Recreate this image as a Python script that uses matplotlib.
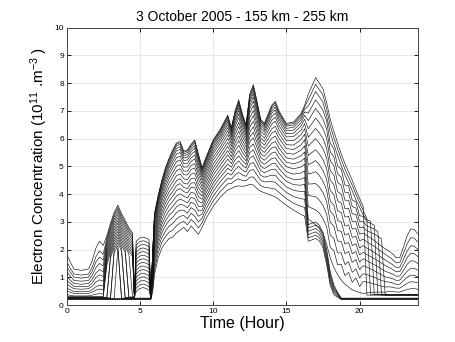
import matplotlib
matplotlib.use('Agg')
import matplotlib.pyplot as plt

plt.rcParams['font.family'] = ['Liberation Sans', 'DejaVu Sans']
plt.rcParams['mathtext.fontset'] = 'custom'
plt.rcParams['mathtext.rm'] = 'Liberation Sans'
plt.rcParams['mathtext.it'] = 'Liberation Sans:italic'
plt.rcParams['mathtext.bf'] = 'Liberation Sans:bold'

# Tiempo (horas) comun a todas las curvas
hours = [0, 0.25, 0.5, 1.0, 1.5, 1.75, 2.0, 2.25, 2.5,
         2.75, 3.0, 3.25, 3.5, 3.75, 4.0, 4.25, 4.5, 4.625,
         4.75, 5.0, 5.25, 5.5, 5.625, 5.75,
         5.875, 6.0, 6.25, 6.5, 6.75,
         7.0, 7.25, 7.5, 7.75, 8.0, 8.25, 8.5, 8.75, 9.0, 9.25, 9.5,
         10.0, 10.5, 11.0, 11.25, 11.5, 11.75, 12.0, 12.25, 12.5, 12.75,
         13.0, 13.25, 13.5, 14.0, 14.25, 14.5, 15.0, 15.5, 16.0, 16.25,
         16.5, 16.75, 17.0, 17.25, 17.5, 17.75, 18.0, 18.25, 18.5, 18.75,
         19.0, 19.25, 19.5, 19.75, 20.0, 20.25,
         20.5, 20.75, 21.0, 21.25, 21.5, 21.75,
         22.0, 22.25, 22.5, 22.75, 23.0, 23.25, 23.5, 23.75, 24.0]

altitudes = [255, 250, 245, 240, 235, 230, 225, 220, 215, 210, 205,
             200, 195, 190, 185, 180, 175, 170, 165, 160, 155]

# Concentracion de electrones (10^11 m^-3) por altura
ne_255 = ([1.85, 1.55, 1.30, 1.25, 1.30, 1.60, 2.05, 2.30, 2.15,
           2.50, 2.95, 3.35, 3.60, 3.30, 3.05, 2.80, 2.60, 0.36,
           2.30, 2.42, 2.45, 2.40, 2.35, 0.36,
           1.90, 3.30, 3.95, 4.50, 4.95, 5.30, 5.60, 5.85, 5.90, 5.55, 5.60, 5.80,
           5.95, 5.45, 4.95, 5.30, 5.95, 6.35, 6.85, 6.40, 7.00, 7.40, 6.90, 6.50,
           7.60, 7.95, 7.35, 6.70, 6.55, 7.20, 7.35, 7.00, 6.55, 6.60, 6.90, 7.20,
           7.60, 7.90, 8.20, 8.00, 7.80, 7.30, 6.70, 6.25, 5.85, 5.45, 5.10, 4.80,
           4.50, 4.15, 3.85, 3.55]
          + [0.36] * 15)
ne_250 = ([1.58, 1.33, 1.12, 1.08, 1.12, 1.37, 1.74, 1.95, 1.83,
           2.42, 2.87, 3.27, 3.52, 3.22, 2.97, 2.72, 2.52, 0.37,
           2.17, 2.29, 2.32, 2.27, 2.22, 0.37,
           1.88, 3.27, 3.92, 4.46, 4.91, 5.26, 5.55, 5.80, 5.85, 5.51, 5.56, 5.76,
           5.90, 5.41, 4.92, 5.27, 5.91, 6.31, 6.81, 6.37, 6.96, 7.35, 6.86, 6.47,
           7.55, 7.90, 7.30, 6.66, 6.51, 7.15, 7.30, 6.95, 6.51, 6.55, 6.85, 7.14,
           7.40, 7.68, 7.96, 7.77, 7.57, 7.07, 6.47, 6.03, 5.64, 5.25, 4.90, 4.61,
           4.32, 3.99, 3.70, 3.41,
           3.12]
          + [0.37] * 14)
ne_245 = ([1.40, 1.19, 1.01, 0.97, 1.01, 1.22, 1.55, 1.73, 1.62,
           2.34, 2.79, 3.19, 3.44, 3.14, 2.89, 2.64, 2.44, 0.38,
           2.04, 2.16, 2.19, 2.14, 2.09, 0.38,
           1.85, 3.22, 3.87, 4.41, 4.86, 5.20, 5.49, 5.74, 5.79, 5.45, 5.50, 5.70,
           5.84, 5.35, 4.87, 5.22, 5.87, 6.26, 6.76, 6.32, 6.90, 7.29, 6.81, 6.42,
           7.49, 7.82, 7.24, 6.61, 6.46, 7.09, 7.23, 6.89, 6.45, 6.49, 6.77, 7.06,
           7.17, 7.43, 7.70, 7.51, 7.31, 6.82, 6.22, 5.78, 5.40, 5.02, 4.69, 4.41,
           4.12, 3.80, 3.53, 3.25,
           3.08, 3.02]
          + [0.38] * 13)
ne_240 = ([1.23, 1.04, 0.89, 0.86, 0.89, 1.07, 1.35, 1.50, 1.41,
           2.25, 2.70, 3.10, 3.35, 3.05, 2.80, 2.55, 2.35, 0.37,
           1.91, 2.03, 2.06, 2.01, 1.96, 0.37,
           1.81, 3.17, 3.81, 4.35, 4.79, 5.13, 5.41, 5.65, 5.71, 5.38, 5.42, 5.62,
           5.75, 5.28, 4.82, 5.17, 5.81, 6.20, 6.69, 6.27, 6.84, 7.21, 6.74, 6.37,
           7.40, 7.73, 7.16, 6.54, 6.40, 7.00, 7.14, 6.81, 6.37, 6.41, 6.68, 6.96,
           6.92, 7.16, 7.40, 7.22, 7.02, 6.65, 5.83, 5.63, 5.02, 4.89, 4.33, 4.30,
           3.79, 3.72, 3.22, 3.20,
           3.00, 2.95, 2.88]
          + [0.37] * 12)
ne_235 = ([1.05, 0.90, 0.78, 0.75, 0.78, 0.93, 1.15, 1.28, 1.20,
           2.15, 2.60, 3.00, 3.25, 2.95, 2.70, 2.45, 2.25, 0.36,
           1.78, 1.90, 1.93, 1.88, 1.83, 0.36,
           1.77, 3.10, 3.75, 4.28, 4.71, 5.04, 5.32, 5.56, 5.61, 5.30, 5.33, 5.53,
           5.66, 5.19, 4.76, 5.10, 5.73, 6.13, 6.61, 6.20, 6.75, 7.12, 6.66, 6.30,
           7.31, 7.62, 7.07, 6.47, 6.32, 6.91, 7.04, 6.71, 6.28, 6.31, 6.57, 6.84,
           6.65, 6.87, 7.09, 6.91, 6.71, 6.35, 5.53, 5.34, 4.73, 4.61, 4.07, 4.05,
           3.55, 3.50, 3.02, 3.01,
           2.85, 2.80, 2.74, 2.64]
          + [0.36] * 11)
ne_230 = ([0.91, 0.78, 0.68, 0.66, 0.68, 0.80, 0.99, 1.09, 1.03,
           2.05, 2.50, 2.90, 3.15, 2.85, 2.60, 2.35, 2.15, 0.35,
           1.65, 1.77, 1.80, 1.75, 1.70, 0.35,
           1.72, 3.02, 3.67, 4.19, 4.61, 4.94, 5.21, 5.44, 5.50, 5.21, 5.23, 5.43,
           5.54, 5.09, 4.68, 5.02, 5.65, 6.04, 6.51, 6.12, 6.66, 7.01, 6.57, 6.22,
           7.19, 7.50, 6.96, 6.37, 6.24, 6.79, 6.92, 6.60, 6.18, 6.20, 6.45, 6.70,
           6.36, 6.55, 6.74, 6.57, 6.37, 6.02, 5.20, 5.02, 4.42, 4.32, 3.78, 3.78,
           3.29, 3.27, 2.79, 2.81,
           2.68, 2.62, 2.56, 2.48, 2.38]
          + [0.35] * 10)
ne_225 = [0.76, 0.67, 0.59, 0.57, 0.59, 0.68, 0.83, 0.91, 0.86,
          1.95, 2.40, 2.80, 3.05, 2.75, 2.50, 2.25, 2.05, 0.34,
          1.52, 1.64, 1.67, 1.62, 1.57, 0.34,
          1.66, 2.94, 3.58, 4.10, 4.50, 4.82, 5.08, 5.31, 5.37, 5.10, 5.11, 5.31,
          5.41, 4.97, 4.60, 4.94, 5.55, 5.95, 6.40, 6.04, 6.55, 6.89, 6.47, 6.14,
          7.06, 7.35, 6.83, 6.27, 6.14, 6.66, 6.78, 6.47, 6.06, 6.08, 6.30, 6.54,
          6.05, 6.21, 6.37, 6.21, 6.01, 5.66, 4.85, 4.68, 4.09, 4.00, 3.48, 3.49,
          3.02, 3.01, 2.56, 2.59,
          2.50, 2.42, 2.33, 2.22, 2.12, 2.03,
          1.95, 1.85, 1.70, 1.72, 2.10, 2.50, 2.75, 2.72, 2.55]
ne_220 = [0.62, 0.55, 0.49, 0.48, 0.49, 0.56, 0.66, 0.72, 0.69,
          1.85, 2.30, 2.70, 2.95, 2.65, 2.40, 2.15, 1.95, 0.33,
          1.39, 1.51, 1.54, 1.49, 1.44, 0.33,
          1.60, 2.84, 3.48, 3.99, 4.38, 4.69, 4.94, 5.17, 5.23, 4.97, 4.98, 5.18,
          5.27, 4.84, 4.50, 4.84, 5.45, 5.84, 6.28, 5.94, 6.43, 6.75, 6.35, 6.04,
          6.92, 7.19, 6.69, 6.15, 6.02, 6.52, 6.63, 6.33, 5.93, 5.93, 6.14, 6.36,
          5.73, 5.87, 6.00, 5.84, 5.64, 5.30, 4.50, 4.34, 3.76, 3.68, 3.17, 3.20,
          2.74, 2.76, 2.32, 2.37,
          2.28, 2.20, 2.12, 2.02, 1.92, 1.83,
          1.74, 1.65, 1.52, 1.54, 1.87, 2.21, 2.43, 2.41, 2.26]
ne_215 = [0.51, 0.46, 0.42, 0.41, 0.42, 0.47, 0.54, 0.58, 0.55,
          1.75, 2.20, 2.60, 2.85, 2.55, 2.30, 2.05, 1.85, 0.32,
          1.26, 1.38, 1.41, 1.36, 1.31, 0.32,
          1.52, 2.73, 3.36, 3.86, 4.25, 4.55, 4.78, 5.00, 5.07, 4.83, 4.83, 5.03,
          5.10, 4.70, 4.39, 4.73, 5.33, 5.71, 6.15, 5.83, 6.29, 6.59, 6.22, 5.93,
          6.75, 7.01, 6.53, 6.02, 5.90, 6.35, 6.45, 6.17, 5.78, 5.77, 5.96, 6.16,
          5.39, 5.50, 5.60, 5.45, 5.25, 4.92, 4.13, 3.97, 3.40, 3.34, 2.85, 2.89,
          2.44, 2.48, 2.06, 2.14,
          2.05, 1.98, 1.90, 1.81, 1.72, 1.63,
          1.54, 1.46, 1.35, 1.37, 1.65, 1.95, 2.14, 2.12, 1.99]
ne_210 = [0.38, 0.35, 0.33, 0.33, 0.33, 0.36, 0.39, 0.41, 0.40,
          1.65, 2.10, 2.50, 2.75, 2.45, 2.20, 1.95, 1.75, 0.31,
          1.13, 1.25, 1.28, 1.23, 1.18, 0.31,
          1.45, 2.62, 3.25, 3.74, 4.11, 4.40, 4.62, 4.84, 4.91, 4.70, 4.69, 4.89,
          4.94, 4.55, 4.28, 4.62, 5.21, 5.59, 6.01, 5.72, 6.15, 6.44, 6.09, 5.82,
          6.59, 6.83, 6.37, 5.89, 5.77, 6.19, 6.28, 6.01, 5.64, 5.61, 5.77, 5.96,
          5.06, 5.13, 5.21, 5.06, 4.86, 4.54, 3.75, 3.60, 3.05, 3.00, 2.52, 2.58,
          2.15, 2.21, 1.81, 1.90,
          1.82, 1.75, 1.68, 1.60, 1.51, 1.43,
          1.36, 1.29, 1.20, 1.21, 1.45, 1.71, 1.87, 1.85, 1.74]
ne_205 = ([0.30] * 9
          + [1.55, 2.00, 2.40, 2.65, 2.35, 2.10, 1.85, 0.30, 0.30,
             1.00, 1.12, 1.15, 1.10, 1.05, 0.30,
             1.37, 2.50, 3.13, 3.61, 3.96, 4.24, 4.45, 4.66, 4.73, 4.55, 4.52, 4.72,
             4.76, 4.39, 4.17, 4.50, 5.07, 5.46, 5.86, 5.60, 6.00, 6.27, 5.94, 5.70,
             6.41, 6.63, 6.20, 5.75, 5.64, 6.01, 6.09, 5.83, 5.47, 5.44, 5.58, 5.74,
             4.72, 4.76, 4.81, 4.67, 4.47, 4.16, 3.38, 3.23, 2.69, 2.66, 2.20, 2.26,
             1.85, 1.93, 1.55, 1.67,
             1.60, 1.53, 1.46, 1.38, 1.30, 1.22,
             1.17, 1.12, 1.04, 1.05, 1.25, 1.47, 1.60, 1.58, 1.49])
ne_200 = ([0.29] * 9
          + [1.45, 1.90, 2.30, 2.55, 2.25, 2.00, 0.29, 0.29, 0.29,
             0.87, 0.99, 1.02, 0.97, 0.92, 0.29,
             1.29, 2.38, 3.00, 3.47, 3.82, 4.08, 4.28, 4.48, 4.56, 4.39, 4.36, 4.56,
             4.58, 4.23, 4.05, 4.38, 4.94, 5.32, 5.72, 5.48, 5.85, 6.10, 5.80, 5.58,
             6.23, 6.43, 6.03, 5.61, 5.50, 5.83, 5.90, 5.66, 5.31, 5.26, 5.38, 5.52,
             4.36, 4.37, 4.38, 4.26, 4.06, 3.75, 2.98, 2.84, 2.31, 2.29, 1.85, 1.93,
             1.54, 1.64, 1.28, 1.42,
             1.37, 1.30, 1.24, 1.16, 1.09, 1.02,
             0.99, 0.95, 0.89, 0.90, 1.06, 1.22, 1.33, 1.32, 1.25])
ne_195 = ([0.28] * 9
          + [0.28, 1.80, 2.20, 2.45, 2.15, 1.90, 0.28, 0.28, 0.28,
             0.74, 0.86, 0.89, 0.84, 0.79, 0.28,
             1.21, 2.25, 2.88, 3.34, 3.67, 3.92, 4.10, 4.31, 4.38, 4.24, 4.20, 4.40,
             4.41, 4.07, 3.93, 4.25, 4.81, 5.19, 5.57, 5.35, 5.70, 5.93, 5.66, 5.45,
             6.06, 6.23, 5.85, 5.46, 5.36, 5.66, 5.71, 5.48, 5.15, 5.09, 5.18, 5.30,
             3.95, 3.93, 3.91, 3.79, 3.59, 3.29, 2.53, 2.40, 1.88, 1.88, 1.46, 1.56,
             1.18, 1.31, 0.98, 1.13,
             1.10, 1.05, 1.00, 0.94, 0.89, 0.84,
             0.83, 0.80, 0.75, 0.75, 0.88, 1.00, 1.08, 1.07, 1.02])
ne_190 = ([0.27] * 9
          + [0.27, 1.70, 2.10, 2.35, 2.05, 0.27, 0.27, 0.27, 0.27,
             0.61, 0.73, 0.76, 0.71, 0.66, 0.27,
             1.13, 2.13, 2.76, 3.20, 3.52, 3.76, 3.93, 4.13, 4.20, 4.09, 4.04, 4.24,
             4.23, 3.91, 3.81, 4.13, 4.68, 5.05, 5.42, 5.23, 5.55, 5.76, 5.51, 5.33,
             5.88, 6.03, 5.68, 5.32, 5.22, 5.48, 5.52, 5.30, 4.99, 4.91, 4.98, 5.08,
             3.55, 3.49, 3.43, 3.32, 3.12, 2.83, 2.08, 1.96, 1.45, 1.47, 1.06, 1.18,
             0.82, 0.98, 0.67, 0.85,
             0.83, 0.80, 0.76, 0.72, 0.68, 0.65,
             0.66, 0.64, 0.61, 0.61, 0.70, 0.78, 0.84, 0.83, 0.80])
ne_185 = ([0.26] * 9
          + [0.26, 0.26, 2.00, 2.25, 1.95, 0.26, 0.26, 0.26, 0.26,
             0.48, 0.60, 0.63, 0.58, 0.53, 0.26,
             1.04, 2.00, 2.62, 3.05, 3.36, 3.59, 3.74, 3.93, 4.01, 3.93, 3.86, 4.06,
             4.03, 3.74, 3.68, 4.00, 4.53, 4.90, 5.26, 5.10, 5.39, 5.57, 5.35, 5.20,
             5.68, 5.81, 5.49, 5.17, 5.07, 5.28, 5.31, 5.11, 4.81, 4.72, 4.76, 4.84,
             3.10, 3.00, 2.90, 2.80, 2.60, 2.20, 1.70, 1.35, 1.10, 0.90, 0.75, 0.65,
             0.55, 0.50, 0.45, 0.42,
             0.44, 0.45, 0.46, 0.47, 0.47, 0.46,
             0.50, 0.49, 0.47, 0.47, 0.52, 0.56, 0.59, 0.59, 0.57])
ne_180 = ([0.25] * 9
          + [0.25, 0.25, 1.90, 2.15, 0.25, 0.25, 0.25, 0.25, 0.25]
          + [0.25] * 6
          + [0.96, 1.87, 2.49, 2.91, 3.19, 3.41, 3.55, 3.74, 3.82, 3.76, 3.68, 3.88,
             3.84, 3.56, 3.55, 3.87, 4.39, 4.76, 5.09, 4.97, 5.23, 5.38, 5.20, 5.07,
             5.49, 5.60, 5.30, 5.01, 4.92, 5.09, 5.11, 4.92, 4.63, 4.53, 4.54, 4.60,
             2.90, 2.95, 3.00, 2.88, 2.62, 2.02, 1.20, 0.72, 0.46]
          + [0.25] * 22)
ne_175 = ([0.24] * 12
          + [2.05]
          + [0.24] * 11
          + [0.87, 1.74, 2.35, 2.76, 3.03, 3.24, 3.36, 3.54, 3.63, 3.60, 3.51, 3.71,
             3.64, 3.39, 3.42, 3.74, 4.25, 4.61, 4.93, 4.84, 5.06, 5.20, 5.04, 4.94,
             5.29, 5.38, 5.11, 4.85, 4.77, 4.89, 4.90, 4.73, 4.46, 4.34, 4.32, 4.36,
             2.78, 2.83, 2.88, 2.77, 2.51, 1.91, 1.10, 0.65, 0.43]
          + [0.24] * 22)
ne_170 = ([0.23] * 24
          + [0.78, 1.59, 2.21, 2.60, 2.86, 3.05, 3.16, 3.33, 3.42, 3.42, 3.31, 3.51,
             3.43, 3.20, 3.28, 3.59, 4.09, 4.45, 4.76, 4.69, 4.88, 5.00, 4.87, 4.79,
             5.08, 5.14, 4.91, 4.68, 4.61, 4.68, 4.68, 4.52, 4.26, 4.14, 4.09, 4.10,
             2.66, 2.71, 2.76, 2.66, 2.40, 1.80, 1.00, 0.58, 0.40]
          + [0.23] * 22)
ne_165 = ([0.22] * 24
          + [0.67, 1.44, 2.05, 2.43, 2.67, 2.85, 2.94, 3.10, 3.20, 3.23, 3.11, 3.31,
             3.20, 3.00, 3.13, 3.44, 3.92, 4.28, 4.57, 4.54, 4.69, 4.78, 4.69, 4.64,
             4.85, 4.89, 4.69, 4.50, 4.44, 4.45, 4.43, 4.30, 4.06, 3.91, 3.83, 3.82,
             2.54, 2.59, 2.64, 2.54, 2.29, 1.69, 0.90, 0.51, 0.36]
          + [0.22] * 22)
ne_160 = ([0.21] * 24
          + [0.57, 1.28, 1.88, 2.25, 2.47, 2.63, 2.70, 2.86, 2.96, 3.02, 2.89, 3.09,
             2.96, 2.78, 2.97, 3.28, 3.74, 4.10, 4.37, 4.38, 4.49, 4.55, 4.49, 4.48,
             4.61, 4.62, 4.45, 4.31, 4.25, 4.21, 4.18, 4.06, 3.84, 3.67, 3.56, 3.52,
             2.42, 2.47, 2.52, 2.43, 2.18, 1.58, 0.80, 0.44, 0.32]
          + [0.21] * 22)
ne_155 = ([0.20] * 24
          + [0.45, 1.10, 1.70, 2.05, 2.25, 2.40, 2.45, 2.60, 2.70, 2.80, 2.65, 2.85,
             2.70, 2.55, 2.80, 3.10, 3.55, 3.90, 4.15, 4.20, 4.27, 4.30, 4.28, 4.30,
             4.35, 4.33, 4.20, 4.10, 4.05, 3.95, 3.90, 3.80, 3.60, 3.42, 3.27, 3.20,
             2.30, 2.35, 2.40, 2.32, 2.07, 1.47, 0.70, 0.37, 0.28]
          + [0.20] * 22)

curves = [ne_255, ne_250, ne_245, ne_240, ne_235, ne_230, ne_225, ne_220,
          ne_215, ne_210, ne_205, ne_200, ne_195, ne_190, ne_185, ne_180,
          ne_175, ne_170, ne_165, ne_160, ne_155]

for alt, ne in zip(altitudes, curves):
    assert len(ne) == len(hours), (alt, len(ne))

fig = plt.figure(figsize=(4.56, 3.42), dpi=100)
ax = fig.add_axes([0.146, 0.108, 0.771, 0.811])

for ne in curves:
    ax.plot(hours, ne, color='#111111', lw=0.45)

ax.set_xlim(0, 24)
ax.set_ylim(0, 10)
ax.set_xticks([0, 5, 10, 15, 20])
ax.set_yticks(range(0, 11))
ax.grid(True, color='#e4e4e4', lw=0.6)
ax.set_axisbelow(True)
ax.tick_params(direction='in', length=3, width=0.6, labelsize=6,
               top=True, right=True, pad=2)
for s in ax.spines.values():
    s.set_color('#444444')
    s.set_linewidth(0.7)

ax.set_title('3 October 2005 - 155 km - 255 km', fontsize=10, pad=5)
ax.set_xlabel('Time (Hour)', fontsize=11.5, labelpad=1)
ax.set_ylabel('Electron Concentration (10$^{11}$ .m$^{-3}$ )', fontsize=11, labelpad=3)

fig.savefig('out.png', dpi=100)
